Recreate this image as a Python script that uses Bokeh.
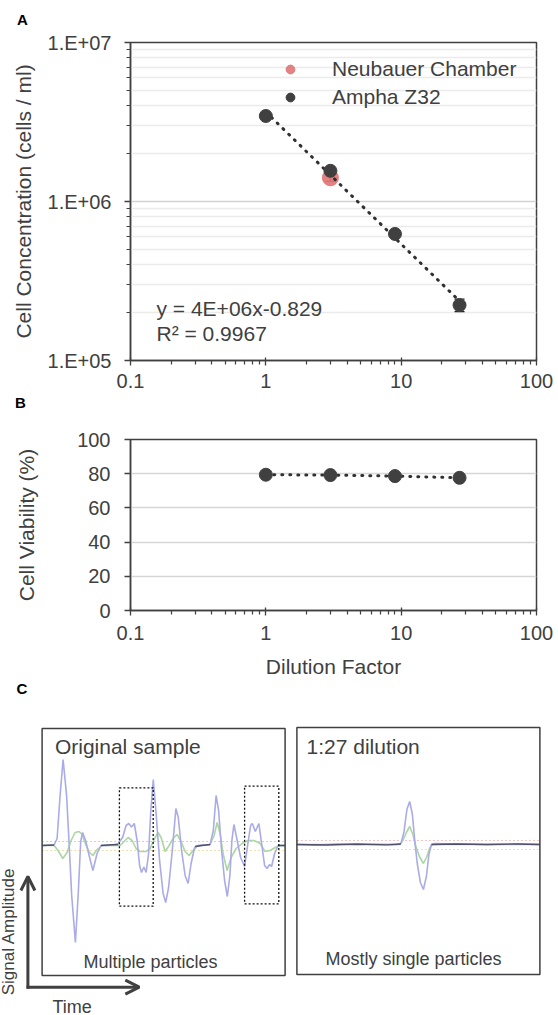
import numpy as np
from bokeh.plotting import figure
from bokeh.models import (Range1d, FixedTicker, CustomJSTickFormatter, Whisker, TeeHead,
                          ColumnDataSource, Legend, LegendItem, Label, Arrow, OpenHead, Div)
from bokeh.layouts import column, row
from bokeh.embed import file_html
from bokeh.resources import INLINE

FONT = "Liberation Sans"
INK = "#404040"

# ---------------- data: panel A ----------------
dilution = [1, 3, 9, 27]
ampha_conc = [3.45e6, 1.56e6, 6.25e5, 2.23e5]
ampha_err = [5e4, 5e4, 2e4, 2e4]
neubauer_dilution = [3]
neubauer_conc = [1.41e6]
neubauer_err = [7e4]
series_names = ["Neubauer Chamber", "Ampha Z32"]
fit_labels = ["y = 4E+06x-0.829", "R\u00b2 = 0.9967"]
x_decades = [0.1, 1, 10, 100]
conc_decades = [1e5, 1e6, 1e7]

# ---------------- data: panel B ----------------
viability = [79.4, 79.2, 78.6, 77.6]
viab_ticks = [0, 20, 40, 60, 80, 100]

# ---------------- data: panel C (time, amplitude; arbitrary units) ----------------
trace_t_lim = [0, 243]
trace_a_lim = [-130, 117]
orig_blue_t = [0, 12, 15, 18, 21, 24.5, 27, 29.6, 33.3, 36.3, 38.6, 40.5, 43.5, 47.5, 50.8, 55, 58.8,
               66, 75.8, 80.5, 84, 86.7, 89.4, 92.2, 95, 97.5, 99.4, 101.8, 104, 106.5, 108.7, 111.2,
               114, 117.5, 121, 123.6, 126.5, 130.2, 133.8, 136.2, 139.5, 143, 146, 149, 152.5, 156,
               168, 171.2, 174, 176.5, 179.5, 182.5, 185.2, 187.8, 189.8, 191.8, 194.5, 198.5, 202.5,
               205.5, 208.5, 210.2, 213.2, 216.8, 219.5, 222.5, 225, 227.5, 229.5, 232.5, 236, 243]
orig_blue_a = [0, 0.5, 7, 50, 86, 50, 2, -50, -97, -45, 4, 13, 5, -12, -25, -8, 0,
               0, 1.5, 8, 20, 22, 18.5, 22, 5, -20, -27, -21.5, -27, -8, 35, 66,
               32, -15, -48, -57, -42, -5, 37, 28, -5, -30, -38, -18, -2, 0,
               1, 15, 50, 35, -5, -35, -51, -30, 5, 21, 8, -12, -21,
               0, 20, 22, 14, 22, 2, -20, -23, -19, -21, -8, 0, 0]
orig_green_t = [0, 12, 16, 20.7, 25, 29, 33, 37, 40, 44, 47.5, 50.7, 55, 60, 78, 82, 86, 90, 94, 98,
                104, 108, 112, 116, 119, 123, 127, 131, 135, 139, 143, 147, 151, 156, 168, 172, 175,
                178, 181, 185, 189, 194, 200, 206, 212, 218, 223, 228, 233, 238, 243]
orig_green_a = [0, 0, -5, -13, -7, 5, 13, 14, 11, 0, -7, -10, -4, 0, 0, 4, 8, 5, -3, -6,
                -6, -3, 6, 13, 8, -6, 0, 7, 11, 4, -6, -10, -5, 0, 1, 10, 23,
                12, -8, -25, -12, -3, 2, 5, 5, 2, -6, -5, -2, 0, 0]
orig_base_t = [0, 12, np.nan, 58.8, 66, 76, np.nan, 153, 160, 168, np.nan, 236, 243]
orig_base_a = [0, 0.5, np.nan, 0, 0.5, 1, np.nan, -1, 0, 1, np.nan, 0, 0]

dil_blue_t = [0, 20, 40, 60, 80, 100, 104, 107, 110, 112.8, 115.5, 118, 120.5, 123.5, 126.5,
              129.5, 132, 134.5, 138, 160, 190, 220, 243]
dil_blue_a = [0, -0.5, 0.5, -0.3, 0.3, 0, 1, 12, 35, 43, 30, 2, -20, -38, -45,
              -32, -10, 0, 1, 0.5, 0, 0.5, 0]
dil_green_t = [0, 103, 106, 109.5, 112.8, 116, 119, 122.5, 126.5, 130, 133, 136, 243]
dil_green_a = [0, 0, 4, 12, 18, 10, -2, -12, -19, -12, -3, 0, 0]
dil_base_t = [0, 30, 60, 90, 104, np.nan, 134.5, 160, 190, 220, 243]
dil_base_a = [0, -0.5, 0.5, -0.3, 0.5, np.nan, 0, 0.5, 0, 0.5, 0]

thresholds = [4, -5]
threshold_colors = ["#f2c2c2", "#efe0b0"]
box_t0 = [77.3, 202.5]
box_t1 = [111.1, 236.7]
box_lo = [-60.7, -58.3]
box_hi = [57.7, 59.3]
panel_letters = ["A", "B", "C"]
panel_titles = ["Original sample", "1:27 dilution"]
panel_notes = ["Multiple particles", "Mostly single particles"]
axis_words = ["Signal Amplitude", "Time"]

# ---------------- helpers ----------------
def minor_ticks(decades):
    return [m * d for d in decades[:-1] for m in range(2, 10)]

def style_axis(ax):
    ax.axis_line_color = INK
    ax.axis_line_width = 1.5
    ax.major_tick_line_color = INK
    ax.minor_tick_line_color = INK
    ax.major_tick_line_width = 1.3
    ax.minor_tick_line_width = 1.2
    ax.major_label_text_font = FONT
    ax.major_label_text_font_size = "20px"
    ax.major_label_text_color = INK
    ax.axis_label_text_font = FONT
    ax.axis_label_text_font_size = "21px"
    ax.axis_label_text_color = INK
    ax.axis_label_text_font_style = "normal"

def label(p, x, y, text, size="21px", bold=False, align="left", angle=0.0):
    p.add_layout(Label(x=x, y=y, x_units="canvas", y_units="canvas", text=text,
                       text_font=FONT, text_font_size=size,
                       text_color="#000000" if bold else INK,
                       text_font_style="bold" if bold else "normal",
                       text_align=align, text_baseline="middle", angle=angle))

def letter_div(text, height, pad_top, pad_left):
    return Div(text=text, width=558, height=height, margin=0,
               styles={"font-family": FONT, "font-size": "15px", "font-weight": "bold",
                       "color": "#000000", "line-height": "16px", "box-sizing": "border-box",
                       "padding-top": f"{pad_top}px", "padding-left": f"{pad_left}px",
                       "overflow": "hidden"})

def blank(width, height, x_range=(0, 1), y_range=(0, 1)):
    p = figure(width=width, height=height, x_range=Range1d(*x_range), y_range=Range1d(*y_range),
               x_axis_location=None, y_axis_location=None, min_border=0,
               output_backend="svg", toolbar_location=None)
    p.grid.visible = False
    p.outline_line_color = None
    return p

x_fmt = CustomJSTickFormatter(code="return tick < 1 ? tick.toFixed(1) : tick.toFixed(0);")
y_fmt = CustomJSTickFormatter(code="""
const e = Math.round(Math.log10(tick));
return "1.E+" + (e < 10 ? "0" + e : "" + e);
""")

# ---------------- panel A ----------------
divA = letter_div(panel_letters[0], 28, 12, 17)

pA = figure(width=558, height=367, x_axis_type="log", y_axis_type="log",
            x_range=Range1d(x_decades[0], x_decades[-1]),
            y_range=Range1d(conc_decades[0], conc_decades[-1]),
            output_backend="svg", toolbar_location=None,
            min_border_left=130, min_border_right=18, min_border_top=14, min_border_bottom=35)
pA.outline_line_color = INK
pA.outline_line_width = 1.5
pA.outline_line_alpha = 1.0
xt = FixedTicker(ticks=x_decades, minor_ticks=minor_ticks(x_decades))
yt = FixedTicker(ticks=conc_decades, minor_ticks=minor_ticks(conc_decades))
pA.xaxis.ticker = xt
pA.yaxis.ticker = yt
pA.xaxis.formatter = x_fmt
pA.yaxis.formatter = y_fmt
for ax in (pA.xaxis[0], pA.yaxis[0]):
    style_axis(ax)
pA.xaxis.major_tick_in = 3
pA.xaxis.major_tick_out = 5
pA.xaxis.minor_tick_in = 0
pA.xaxis.minor_tick_out = 4
pA.xaxis.major_label_standoff = 8
pA.yaxis.major_tick_in = 0
pA.yaxis.major_tick_out = 6
pA.yaxis.minor_tick_in = 0
pA.yaxis.minor_tick_out = 4
pA.yaxis.major_label_standoff = 13
pA.yaxis.axis_label = "Cell Concentration (cells / ml)"
pA.yaxis.axis_label_standoff = 10
pA.xgrid.visible = False
pA.ygrid.ticker = yt
pA.ygrid.grid_line_color = "#d2d2d2"
pA.ygrid.grid_line_width = 1.5
pA.ygrid.minor_grid_line_color = "#ebebeb"
pA.ygrid.minor_grid_line_width = 1.5

r_neu = pA.scatter(neubauer_dilution, neubauer_conc, size=16, color="#e07474", alpha=0.9)
slope, icpt = np.polyfit(np.log10(dilution), np.log10(ampha_conc), 1)
fit_x = [min(dilution), max(dilution)]
fit_y = [10 ** (icpt + slope * np.log10(v)) for v in fit_x]
pA.line(fit_x, fit_y, line_color="#303030", line_width=3, line_dash="1 7", line_cap="round")
r_amp = pA.scatter(dilution, ampha_conc, size=13, color=INK)

src_amp = ColumnDataSource(dict(x=dilution,
                                lo=[c - e for c, e in zip(ampha_conc, ampha_err)],
                                hi=[c + e for c, e in zip(ampha_conc, ampha_err)]))
src_neu = ColumnDataSource(dict(x=neubauer_dilution,
                                lo=[c - e for c, e in zip(neubauer_conc, neubauer_err)],
                                hi=[c + e for c, e in zip(neubauer_conc, neubauer_err)]))
for src, col in ((src_neu, "#8a2a2a"), (src_amp, "#222222")):
    pA.add_layout(Whisker(source=src, base="x", lower="lo", upper="hi", dimension="height",
                          line_color=col, line_width=1.2,
                          upper_head=TeeHead(size=10, line_color=col, line_width=1.2),
                          lower_head=TeeHead(size=10, line_color=col, line_width=1.2)))

legend = Legend(items=[LegendItem(label=series_names[0], renderers=[r_neu]),
                       LegendItem(label=series_names[1], renderers=[r_amp])],
                location=(149, 249), orientation="vertical",
                glyph_width=22, glyph_height=28, label_height=28, label_standoff=31,
                spacing=0, padding=0, margin=0, border_line_color=None,
                background_fill_alpha=0.0,
                label_text_font=FONT, label_text_font_size="21px", label_text_color=INK)
pA.add_layout(legend)
label(pA, 156, 280, fit_labels[0])
label(pA, 156, 305, fit_labels[1])

# ---------------- panel B ----------------
divB = letter_div(panel_letters[1], 20, 0, 15)

pB = figure(width=558, height=265, x_axis_type="log",
            x_range=Range1d(x_decades[0], x_decades[-1]),
            y_range=Range1d(viab_ticks[0], viab_ticks[-1]),
            output_backend="svg", toolbar_location=None,
            min_border_left=126, min_border_right=22, min_border_top=24, min_border_bottom=70)
pB.outline_line_color = INK
pB.outline_line_width = 1.5
pB.outline_line_alpha = 1.0
pB.xaxis.ticker = FixedTicker(ticks=x_decades, minor_ticks=minor_ticks(x_decades))
pB.xaxis.formatter = x_fmt
pB.yaxis.ticker = FixedTicker(ticks=viab_ticks, minor_ticks=[])
for ax in (pB.xaxis[0], pB.yaxis[0]):
    style_axis(ax)
pB.xaxis.major_tick_in = 3
pB.xaxis.major_tick_out = 5
pB.xaxis.minor_tick_in = 0
pB.xaxis.minor_tick_out = 4
pB.xaxis.major_label_standoff = 10
pB.xaxis.axis_label = "Dilution Factor"
pB.xaxis.axis_label_standoff = 12
pB.yaxis.major_tick_in = 0
pB.yaxis.major_tick_out = 6
pB.yaxis.minor_tick_out = 0
pB.yaxis.major_label_standoff = 14
pB.yaxis.axis_label = "Cell Viability (%)"
pB.yaxis.axis_label_standoff = 36
pB.xgrid.visible = False
pB.ygrid.grid_line_color = "#d6d6d6"
pB.ygrid.grid_line_width = 1.5

pB.line(dilution, viability, line_color="#303030", line_width=3, line_dash="1 7", line_cap="round")
pB.scatter(dilution, viability, size=13, color=INK)

# ---------------- panel C ----------------
def signal_panel(width, x_off, y_range, blue, green, base):
    # 1 trace unit = 1 px; the plotting frame fills the canvas, the trace box is drawn as a quad
    p = blank(width, 335, x_range=(-x_off, width - x_off), y_range=y_range)
    for th, col in zip(thresholds, threshold_colors):
        p.segment(x0=trace_t_lim[0], x1=trace_t_lim[1], y0=th, y1=th,
                  line_color=col, line_width=1.2, line_dash="2 2")
    p.line(green[0], green[1], line_color="#acd6a4", line_width=1.6)
    p.line(blue[0], blue[1], line_color="#ababe8", line_width=1.6)
    p.line(np.array(base[0], dtype=float), np.array(base[1], dtype=float),
           line_color="#50506a", line_width=1.3)
    p.quad(left=trace_t_lim[0], right=trace_t_lim[1], bottom=trace_a_lim[0], top=trace_a_lim[1],
           fill_alpha=0.0, line_color=INK, line_width=1.5)
    return p

pCL = signal_panel(290, 41.6, (-170, 165), (orig_blue_t, orig_blue_a),
                   (orig_green_t, orig_green_a), (orig_base_t, orig_base_a))
pCR = signal_panel(268, 6.4, (-171, 164), (dil_blue_t, dil_blue_a),
                   (dil_green_t, dil_green_a), (dil_base_t, dil_base_a))

pCL.quad(left=box_t0, right=box_t1, bottom=box_lo, top=box_hi, fill_alpha=0.0,
         line_color="#111111", line_width=1.3, line_dash="2 2")

label(pCL, 21.4, 8, panel_letters[2], size="15px", bold=True, align="center")
label(pCL, 54.4, 66, panel_titles[0])
label(pCL, 150, 281, panel_notes[0], size="18px", align="center")
label(pCR, 16, 66, panel_titles[1])
label(pCR, 123, 278, panel_notes[1], size="18px", align="center")

head = dict(size=14, line_width=3, line_color=INK)
pCL.add_layout(Arrow(end=OpenHead(**head), x_start=27.4, y_start=308.2, x_end=27.4, y_end=196,
                     start_units="canvas", end_units="canvas", line_color=INK, line_width=3))
pCL.add_layout(Arrow(end=OpenHead(**head), x_start=26, y_start=306.7, x_end=138.8, y_end=306.7,
                     start_units="canvas", end_units="canvas", line_color=INK, line_width=3))
label(pCL, 8, 251, axis_words[0], size="17px", align="center", angle=np.pi / 2)
label(pCL, 71.7, 326, axis_words[1], size="18px", align="center")

layout = column(divA, pA, divB, pB, row(pCL, pCR, spacing=0), spacing=0)
open("out.html", "w").write(file_html(layout, INLINE))
